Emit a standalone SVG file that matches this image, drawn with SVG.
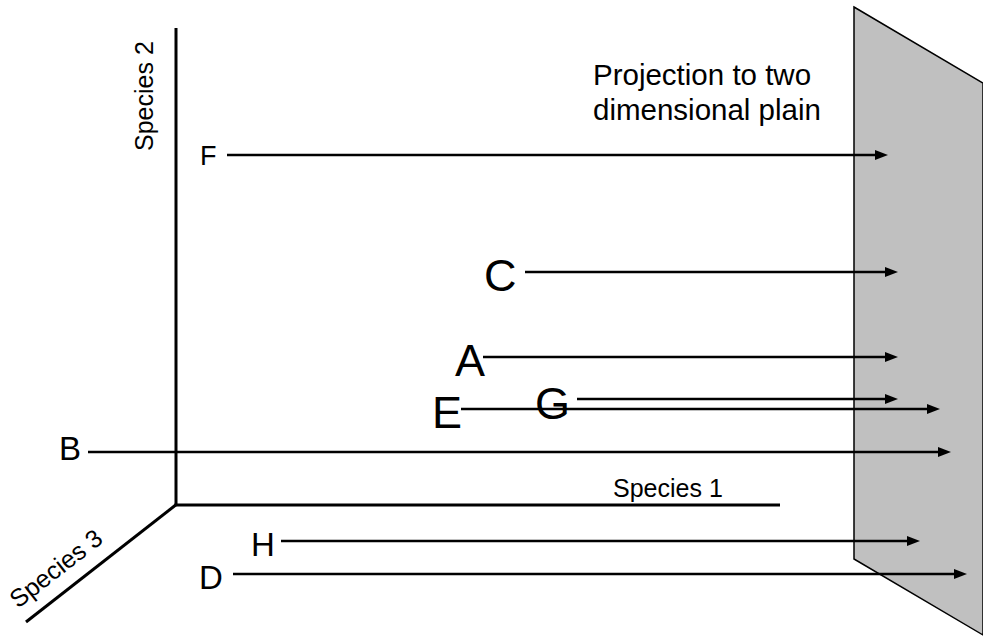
<svg xmlns="http://www.w3.org/2000/svg" width="983" height="641" viewBox="0 0 983 641">
<style>
text{font-family:"Liberation Sans",Arial,sans-serif;fill:#000}
.big{font-size:45px}
.mid{font-size:33px}
.lbl{font-size:25px}
.ax{stroke:#000;stroke-width:3;fill:none}
.arr{stroke:#000;stroke-width:2.5;fill:none;marker-end:url(#ah)}
</style>
<defs>
<marker id="ah" markerUnits="userSpaceOnUse" markerWidth="14" markerHeight="11" refX="0" refY="5" orient="auto" overflow="visible">
<path d="M0,0 L13,5 L0,10 Z" fill="#000"/>
</marker>
</defs>
<rect width="983" height="641" fill="#fff"/>
<g id="plane">
<polygon points="854,7 983,83 983,635 854,559" fill="#c0c0c0" stroke="#000" stroke-width="1.5"/>
</g>
<g id="axes">
<line class="ax" x1="176" y1="28" x2="176" y2="505"/>
<line class="ax" x1="174.5" y1="505" x2="780" y2="505"/>
<line class="ax" x1="177" y1="504" x2="26" y2="622"/>
<text class="lbl" x="613" y="497">Species 1</text>
<text class="lbl" transform="translate(153,151) rotate(-90)">Species 2</text>
<text class="lbl" transform="translate(18,609) rotate(-38)">Species 3</text>
</g>
<g id="title">
<text style="font-size:29.5px" x="593" y="85">Projection to two</text>
<text style="font-size:29.5px" x="593" y="120">dimensional plain</text>
</g>
<g id="connectors">
<line class="arr" x1="227" y1="155" x2="875" y2="155"/>
<line class="arr" x1="525" y1="272" x2="885" y2="272"/>
<line class="arr" x1="483" y1="357" x2="885" y2="357"/>
<line class="arr" x1="577" y1="399" x2="885" y2="399"/>
<line class="arr" x1="461" y1="409" x2="927" y2="409"/>
<line class="arr" x1="88" y1="452" x2="938" y2="452"/>
<line class="arr" x1="281" y1="541" x2="907" y2="541"/>
<line class="arr" x1="233" y1="574" x2="954" y2="574"/>
</g>
<g id="node-F"><text style="font-size:27px" x="200" y="165">F</text></g>
<g id="node-C"><text class="big" x="484" y="291">C</text></g>
<g id="node-A"><text class="big" x="455" y="376">A</text></g>
<g id="node-G"><text class="big" x="535" y="419">G</text></g>
<g id="node-E"><text class="big" x="432" y="428">E</text></g>
<g id="node-B"><text class="mid" x="59" y="460">B</text></g>
<g id="node-H"><text class="mid" x="251" y="556">H</text></g>
<g id="node-D"><text class="mid" x="199" y="589">D</text></g>
</svg>
